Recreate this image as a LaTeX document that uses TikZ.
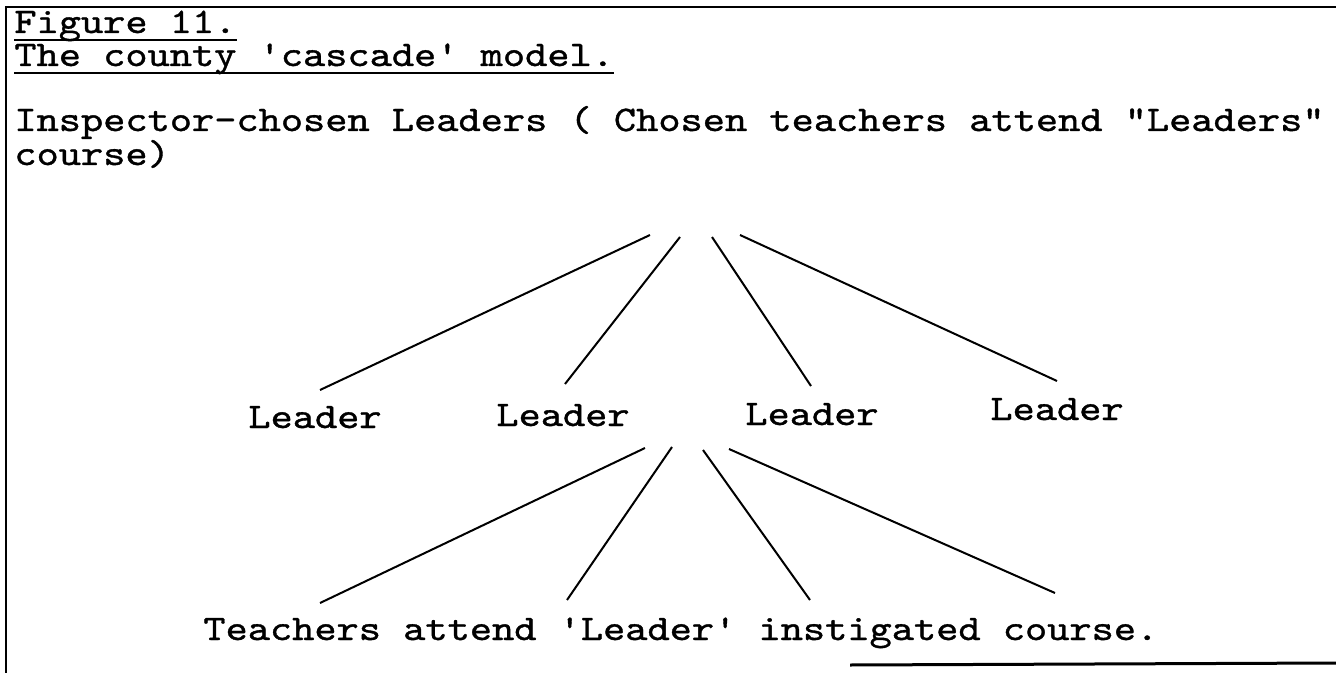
\documentclass[tikz,border=0pt]{standalone}
\usepackage{fontspec}
\setmonofont[FakeBold=1,FakeStretch=1.175]{lmmono10-regular.otf}
\begin{document}
\begin{tikzpicture}[x=0.5pt,y=-0.5pt,
  txt/.style={anchor=base west,inner sep=0pt,font=\ttfamily\fontsize{18pt}{22pt}\selectfont},
  frame/.style={line width=1.3pt},
  conn/.style={line width=1pt},
  uline/.style={line width=1.1pt}]
\useasboundingbox (0,0) rectangle (1336,673);
% frame
\coordinate (ftr) at (1336,7);
\coordinate (ftl) at (6,7);
\coordinate (fbl) at (6,673);
\coordinate (bbl) at (850,665);
\coordinate (bbr) at (1336,663);
\draw[frame] (ftr) -- (ftl) -- (fbl);
\draw[frame,line width=1.5pt] (bbl) -- (bbr);
% titles
\node[txt] (fig) at (14,33) {Figure 11.};
\node[txt] (cas) at (14,66) {The county 'cascade' model.};
\draw[uline] ([yshift=-3.5pt]fig.base west) -- ([yshift=-3.5pt]fig.base east);
\draw[uline] ([yshift=-3.5pt]cas.base west) -- ([yshift=-3.5pt]cas.base east);
\node[txt] (insp) at (14,131) {Inspector-chosen Leaders ( Chosen teachers attend "Leaders"};
\node[txt] (crs) at (14,165) {course)};
% leaders
\node[txt] (L1) at (248,428) {Leader};
\node[txt] (L2) at (496,426) {Leader};
\node[txt] (L3) at (745,425) {Leader};
\node[txt] (L4) at (990,420) {Leader};
\node[txt] (teach) at (203,640) {Teachers attend 'Leader' instigated course.};
% top fan
\coordinate (a1) at (650,235);
\coordinate (a2) at (680,237);
\coordinate (a3) at (712,237);
\coordinate (a4) at (740,235);
\coordinate (b1) at (320,390);
\coordinate (b2) at (565,384);
\coordinate (b3) at (811,386);
\coordinate (b4) at (1057,381);
\draw[conn] (a1) -- (b1);
\draw[conn] (a2) -- (b2);
\draw[conn] (a3) -- (b3);
\draw[conn] (a4) -- (b4);
% bottom fan
\coordinate (c1) at (645,448);
\coordinate (c2) at (672,447);
\coordinate (c3) at (703,450);
\coordinate (c4) at (729,449);
\coordinate (d1) at (320,603);
\coordinate (d2) at (567,600);
\coordinate (d3) at (810,600);
\coordinate (d4) at (1055,593);
\draw[conn] (c1) -- (d1);
\draw[conn] (c2) -- (d2);
\draw[conn] (c3) -- (d3);
\draw[conn] (c4) -- (d4);
\end{tikzpicture}
\end{document}
